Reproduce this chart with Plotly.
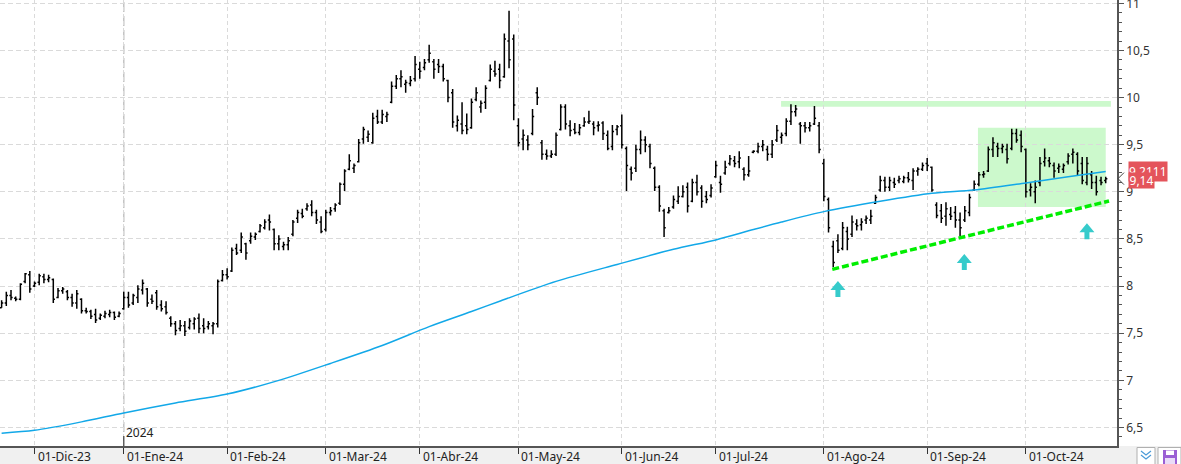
import numpy as np
import pandas as pd
import plotly.graph_objects as go

# ---------------- data ----------------
holidays = ["2023-12-25", "2023-12-26", "2024-01-01", "2024-03-29", "2024-04-01", "2024-05-01"]
dates = pd.bdate_range("2023-11-22", "2024-10-24", freq="C", holidays=holidays)

open_ = [
    7.77, 7.82, 7.90, 7.87, 7.86, 8.05, 8.12,
    8.00, 8.04, 8.10, 8.07, 8.07, 7.88, 7.95, 7.94, 7.88, 7.82, 7.86, 7.74, 7.73, 7.70, 7.66, 7.68, 7.70, 7.72, 7.68,
    7.76, 7.88, 7.82, 7.88, 7.96, 7.97, 7.86, 7.93, 7.80, 7.78, 7.66, 7.60, 7.55, 7.58, 7.56, 7.60, 7.66, 7.58, 7.57, 7.58, 7.60, 8.06,
    8.12, 8.16, 8.40, 8.38, 8.45, 8.48, 8.52, 8.58, 8.62, 8.70, 8.60, 8.45, 8.42, 8.44, 8.55, 8.72, 8.77, 8.82, 8.86, 8.78, 8.68,
    8.60, 8.78, 8.82, 8.88, 9.08, 9.24, 9.25, 9.32, 9.56, 9.58, 9.52, 9.80, 9.74, 9.80, 9.95, 10.12, 10.20, 10.14, 10.15, 10.20,
    10.30, 10.32, 10.40, 10.38, 10.35, 10.33, 10.18, 10.05, 9.70, 9.72, 9.70, 9.68, 9.98, 9.90, 9.95, 10.18, 10.28, 10.30, 10.22, 10.60, 10.62,
    9.70, 9.56, 9.55, 9.62, 10.05, 9.52, 9.40, 9.38, 9.40, 9.66, 9.90, 9.70, 9.66, 9.63, 9.70, 9.74, 9.72, 9.70, 9.73, 9.60, 9.48, 9.66,
    9.70, 9.46, 9.24, 9.25, 9.45, 9.55, 9.48, 9.25, 9.05, 8.80, 8.78, 8.84, 8.90, 8.95, 9.05, 8.90, 9.10, 9.04, 8.95, 8.96,
    9.16, 9.10, 9.20, 9.30, 9.33, 9.32, 9.24, 9.18, 9.42, 9.43, 9.48, 9.45, 9.40, 9.55, 9.58, 9.62, 9.75, 9.85, 9.72, 9.70, 9.68, 9.72, 9.70,
    9.30, 8.92, 8.42, 8.48, 8.40, 8.58, 8.55, 8.66, 8.65, 8.70, 8.70, 8.88, 9.02, 9.12, 9.05, 9.10, 9.12, 9.11, 9.15, 9.12, 9.22, 9.24,
    9.30, 9.26, 8.86, 8.80, 8.74, 8.76, 8.78, 8.70, 8.70, 8.78, 9.02, 9.08, 9.18, 9.22, 9.45, 9.48, 9.46, 9.45, 9.46, 9.62, 9.60,
    9.45, 9.02, 9.00, 9.10, 9.32, 9.33, 9.28, 9.25, 9.24, 9.32, 9.40, 9.40, 9.30, 9.10, 9.18, 9.10, 9.12, 9.12,
]
high = [
    7.85, 7.94, 7.96, 7.89, 8.03, 8.14, 8.16,
    8.05, 8.13, 8.13, 8.12, 8.08, 7.98, 7.99, 7.96, 7.92, 7.96, 7.87, 7.77, 7.75, 7.76, 7.71, 7.74, 7.75, 7.73, 7.73,
    7.94, 7.94, 7.92, 8.01, 8.07, 7.98, 7.91, 7.96, 7.85, 7.84, 7.68, 7.63, 7.64, 7.63, 7.66, 7.67, 7.71, 7.66, 7.63, 7.62, 8.07, 8.17,
    8.19, 8.41, 8.45, 8.57, 8.46, 8.57, 8.57, 8.66, 8.71, 8.76, 8.61, 8.54, 8.47, 8.52, 8.70, 8.81, 8.82, 8.88, 8.91, 8.81, 8.74,
    8.81, 8.84, 8.88, 9.10, 9.24, 9.40, 9.30, 9.56, 9.69, 9.65, 9.84, 9.87, 9.87, 9.85, 10.17, 10.24, 10.29, 10.19, 10.23, 10.44,
    10.38, 10.41, 10.56, 10.41, 10.41, 10.36, 10.19, 10.09, 9.81, 9.95, 9.83, 9.99, 10.11, 9.97, 10.13, 10.35, 10.39, 10.36, 10.68, 10.92, 10.67,
    9.78, 9.66, 9.60, 9.88, 10.11, 9.55, 9.45, 9.44, 9.63, 9.93, 9.93, 9.76, 9.73, 9.72, 9.79, 9.86, 9.75, 9.75, 9.75, 9.65, 9.71, 9.71,
    9.82, 9.48, 9.27, 9.50, 9.65, 9.59, 9.51, 9.27, 9.07, 8.82, 8.84, 8.96, 9.06, 9.07, 9.10, 9.14, 9.18, 9.07, 9.01, 9.08,
    9.33, 9.17, 9.33, 9.39, 9.38, 9.43, 9.26, 9.38, 9.44, 9.52, 9.55, 9.49, 9.55, 9.71, 9.63, 9.78, 9.93, 9.92, 9.74, 9.74, 9.74, 9.91, 9.74,
    9.35, 8.94, 8.48, 8.55, 8.68, 8.63, 8.75, 8.71, 8.72, 8.75, 8.81, 8.97, 9.17, 9.16, 9.16, 9.15, 9.17, 9.17, 9.21, 9.25, 9.26, 9.31,
    9.36, 9.27, 8.89, 8.87, 8.89, 8.84, 8.85, 8.78, 8.85, 8.98, 9.12, 9.21, 9.22, 9.48, 9.58, 9.52, 9.51, 9.51, 9.67, 9.67, 9.65,
    9.46, 9.09, 9.12, 9.37, 9.46, 9.37, 9.31, 9.30, 9.30, 9.41, 9.46, 9.42, 9.37, 9.37, 9.22, 9.17, 9.16, 9.16,
]
low = [
    7.77, 7.79, 7.85, 7.84, 7.85, 8.03, 7.93,
    7.99, 8.01, 8.03, 8.04, 7.82, 7.87, 7.92, 7.85, 7.78, 7.76, 7.71, 7.71, 7.65, 7.61, 7.64, 7.66, 7.67, 7.64, 7.67,
    7.75, 7.77, 7.80, 7.82, 7.91, 7.78, 7.81, 7.75, 7.73, 7.70, 7.57, 7.48, 7.52, 7.47, 7.54, 7.54, 7.50, 7.50, 7.54, 7.49, 7.56, 8.05,
    8.07, 8.15, 8.33, 8.35, 8.28, 8.45, 8.49, 8.57, 8.60, 8.59, 8.38, 8.38, 8.38, 8.38, 8.53, 8.67, 8.72, 8.80, 8.74, 8.66, 8.56,
    8.58, 8.75, 8.79, 8.86, 9.01, 9.23, 9.20, 9.31, 9.51, 9.53, 9.51, 9.72, 9.72, 9.74, 9.94, 10.09, 10.11, 10.05, 10.12, 10.17,
    10.20, 10.29, 10.37, 10.20, 10.26, 10.17, 9.95, 9.68, 9.64, 9.61, 9.61, 9.67, 9.96, 9.84, 9.88, 10.17, 10.22, 10.10, 10.21, 10.31, 9.76,
    9.48, 9.44, 9.44, 9.60, 9.92, 9.34, 9.34, 9.36, 9.38, 9.65, 9.66, 9.59, 9.61, 9.60, 9.69, 9.72, 9.60, 9.64, 9.55, 9.44, 9.44, 9.60,
    9.46, 9.01, 9.12, 9.21, 9.40, 9.42, 9.25, 9.01, 8.79, 8.52, 8.77, 8.82, 8.87, 8.94, 8.78, 8.89, 8.96, 8.83, 8.88, 8.94,
    9.15, 8.99, 9.18, 9.28, 9.26, 9.25, 9.12, 9.16, 9.41, 9.41, 9.43, 9.33, 9.36, 9.53, 9.51, 9.59, 9.71, 9.80, 9.51, 9.63, 9.64, 9.71, 9.41,
    8.90, 8.57, 8.20, 8.35, 8.38, 8.38, 8.52, 8.59, 8.59, 8.66, 8.66, 8.87, 9.00, 9.00, 9.01, 9.04, 9.09, 9.09, 9.10, 9.02, 9.17, 9.22,
    9.22, 9.00, 8.72, 8.67, 8.64, 8.70, 8.62, 8.53, 8.68, 8.74, 9.01, 9.06, 9.15, 9.21, 9.37, 9.37, 9.41, 9.30, 9.44, 9.52, 9.42,
    8.94, 8.95, 8.88, 9.06, 9.27, 9.26, 9.15, 9.20, 9.20, 9.29, 9.30, 9.17, 9.08, 9.07, 9.03, 8.96, 9.07, 9.09,
]
close = [
    7.82, 7.90, 7.88, 7.86, 8.02, 8.13, 7.97,
    8.03, 8.11, 8.07, 8.09, 7.86, 7.95, 7.97, 7.88, 7.82, 7.92, 7.74, 7.73, 7.68, 7.64, 7.69, 7.71, 7.72, 7.67, 7.71,
    7.88, 7.80, 7.90, 7.97, 8.03, 7.82, 7.84, 7.78, 7.76, 7.72, 7.60, 7.53, 7.58, 7.52, 7.63, 7.65, 7.55, 7.55, 7.60, 7.60, 8.05, 8.12,
    8.10, 8.38, 8.35, 8.52, 8.35, 8.53, 8.55, 8.64, 8.68, 8.68, 8.45, 8.50, 8.44, 8.48, 8.68, 8.78, 8.74, 8.85, 8.78, 8.70, 8.58,
    8.78, 8.80, 8.86, 9.08, 9.22, 9.33, 9.28, 9.52, 9.66, 9.61, 9.78, 9.74, 9.82, 9.82, 10.12, 10.20, 10.22, 10.16, 10.18, 10.35,
    10.28, 10.37, 10.47, 10.30, 10.33, 10.20, 10.00, 9.74, 9.76, 9.65, 9.66, 9.95, 10.05, 9.94, 10.10, 10.30, 10.25, 10.18, 10.62, 10.40, 9.92,
    9.52, 9.60, 9.50, 9.80, 10.00, 9.40, 9.38, 9.40, 9.60, 9.90, 9.72, 9.65, 9.63, 9.68, 9.74, 9.75, 9.68, 9.71, 9.62, 9.46, 9.64, 9.69,
    9.50, 9.28, 9.20, 9.45, 9.55, 9.50, 9.30, 9.05, 8.85, 8.62, 8.80, 8.92, 8.95, 9.00, 8.85, 9.10, 9.00, 8.90, 8.92, 9.04,
    9.28, 9.08, 9.26, 9.35, 9.30, 9.36, 9.18, 9.22, 9.43, 9.48, 9.50, 9.40, 9.50, 9.65, 9.60, 9.75, 9.85, 9.88, 9.70, 9.68, 9.70, 9.78, 9.45,
    8.95, 8.62, 8.25, 8.38, 8.62, 8.50, 8.68, 8.64, 8.68, 8.72, 8.74, 8.94, 9.12, 9.05, 9.12, 9.08, 9.14, 9.15, 9.13, 9.22, 9.24, 9.28,
    9.28, 9.02, 8.75, 8.72, 8.82, 8.74, 8.70, 8.62, 8.80, 8.94, 9.08, 9.18, 9.19, 9.45, 9.52, 9.46, 9.48, 9.35, 9.62, 9.55, 9.48,
    9.00, 9.05, 9.05, 9.30, 9.36, 9.30, 9.22, 9.27, 9.28, 9.38, 9.42, 9.22, 9.12, 9.30, 9.10, 9.00, 9.10, 9.14,
]

# moving average, read at a number of bars (bar position in the dates list)
ma_pos = [0, 7, 17, 26, 37, 48, 59, 70, 81, 91, 100, 106, 118, 131, 143, 152, 160, 166, 175, 187, 198, 207, 218, 227, 235]
ma_val = [6.44, 6.47, 6.56, 6.655, 6.76, 6.855, 7.00, 7.18, 7.37, 7.57, 7.73, 7.84, 8.05, 8.23, 8.39, 8.49, 8.60,
          8.68, 8.79, 8.90, 8.985, 9.02, 9.095, 9.16, 9.215]

month_labels = ["01-Dic-23", "01-Ene-24", "01-Feb-24", "01-Mar-24", "01-Abr-24", "01-May-24",
                "01-Jun-24", "01-Jul-24", "01-Ago-24", "01-Sep-24", "01-Oct-24"]

last_price_label = "9,14"
ma_label = "9,2111"

assert len(dates) == len(open_) == len(high) == len(low) == len(close)

# ---------------- figure ----------------
xpos = np.arange(len(dates))
month_pos = [i for i in range(1, len(dates)) if dates[i].month != dates[i - 1].month]
year_pos = [i for i in range(1, len(dates)) if dates[i].year != dates[i - 1].year][0]

FONT = "Noto Sans"
fig = go.Figure()

fig.add_trace(go.Ohlc(
    x=xpos, open=open_, high=high, low=low, close=close,
    increasing=dict(line=dict(color="#000000", width=1.5)),
    decreasing=dict(line=dict(color="#000000", width=1.5)),
    tickwidth=0.35, showlegend=False, hoverinfo="skip",
))

fig.add_trace(go.Scatter(
    x=ma_pos, y=ma_val, mode="lines",
    line=dict(color="#12a8e8", width=1.5, shape="spline", smoothing=0.8),
    showlegend=False, hoverinfo="skip",
))

shapes = []
# green resistance band and consolidation box
shapes.append(dict(type="rect", xref="x", yref="y", x0=165.9, x1=236.1, y0=9.903, y1=9.964,
                   fillcolor="#ccf9cc", line=dict(width=0), layer="below"))
shapes.append(dict(type="rect", xref="x", yref="y", x0=207.8, x1=235.0, y0=8.839, y1=9.680,
                   fillcolor="#ccf9cc", line=dict(width=0), layer="below"))
# rising support (dashed)
shapes.append(dict(type="line", xref="x", yref="y", x0=176.8, x1=235.7, y0=8.178, y1=8.903,
                   line=dict(color="#00ee00", width=3.5, dash="7px,3px"), layer="above"))
# year separator
shapes.append(dict(type="line", xref="x", yref="paper", x0=year_pos, x1=year_pos, y0=0, y1=1,
                   line=dict(color="#c4c4c4", width=1.5, dash="10px,4px"), layer="below"))
shapes.append(dict(type="line", xref="x", yref="paper", x0=year_pos, x1=year_pos, y0=0, y1=10 / 446,
                   line=dict(color="#333333", width=1)))
# cyan up-arrows (pixel sized, anchored at data positions)
arrow_path = "M -7.5,-9 L 0,0 L 7.5,-9 L 2.5,-9 L 2.5,-16 L -2.5,-16 L -2.5,-9 Z"
for ax, ay in [(178.0, 8.054), (204.9, 8.341), (231.0, 8.666)]:
    shapes.append(dict(type="path", xref="x", yref="y", xsizemode="pixel", ysizemode="pixel",
                       xanchor=ax, yanchor=ay, path=arrow_path,
                       fillcolor="#36cbcb", line=dict(width=0), layer="above"))
# bottom gray band
shapes.append(dict(type="rect", xref="paper", yref="paper", x0=-0.01, x1=1181 / 1117 + 0.01,
                   y0=-18 / 446 - 0.01, y1=0, fillcolor="#f0f0f0", line=dict(width=0), layer="below"))
# chevron marker at price on axis
shapes.append(dict(type="path", xref="paper", yref="y", xsizemode="pixel", ysizemode="pixel",
                   xanchor=1, yanchor=9.14, path="M 7,6 L 1,0 L 7,-6",
                   line=dict(color="#444444", width=1)))
# bottom-right icons
shapes.append(dict(type="rect", xref="paper", yref="paper", xsizemode="pixel", ysizemode="pixel",
                   xanchor=1, yanchor=0, x0=20, x1=38, y0=-1.5, y1=-19,
                   fillcolor="#ffffff", line=dict(color="#b0b0b0", width=1)))
shapes.append(dict(type="path", xref="paper", yref="paper", xsizemode="pixel", ysizemode="pixel",
                   xanchor=1, yanchor=0, path="M 24,-5 L 29,-9 L 34,-5 M 24,-9 L 29,-13 L 34,-9",
                   line=dict(color="#4a9ad8", width=1.2)))
shapes.append(dict(type="rect", xref="paper", yref="paper", xsizemode="pixel", ysizemode="pixel",
                   xanchor=1, yanchor=0, x0=41, x1=64, y0=-1.5, y1=-19,
                   fillcolor="#ffffff", line=dict(color="#b0b0b0", width=1)))
shapes.append(dict(type="rect", xref="paper", yref="paper", xsizemode="pixel", ysizemode="pixel",
                   xanchor=1, yanchor=0, x0=46, x1=60, y0=-4, y1=-18,
                   fillcolor="#9b5fd4", line=dict(width=0)))
shapes.append(dict(type="rect", xref="paper", yref="paper", xsizemode="pixel", ysizemode="pixel",
                   xanchor=1, yanchor=0, x0=49, x1=57, y0=-4.5, y1=-9,
                   fillcolor="#ffffff", line=dict(width=0)))
shapes.append(dict(type="rect", xref="paper", yref="paper", xsizemode="pixel", ysizemode="pixel",
                   xanchor=1, yanchor=0, x0=48, x1=58, y0=-12, y1=-18,
                   fillcolor="#e9dcf7", line=dict(width=0)))

annotations = []
for pos, lab in zip(month_pos, month_labels):
    annotations.append(dict(x=pos, xref="x", y=-10 / 446, yref="paper", text=lab, showarrow=False,
                            xanchor="left", yanchor="middle", xshift=1,
                            font=dict(family=FONT, size=12, color="#222222")))
annotations.append(dict(x=year_pos, xref="x", y=3 / 446, yref="paper", text="2024", showarrow=False,
                        xanchor="left", yanchor="bottom", xshift=0,
                        font=dict(family=FONT, size=12, color="#222222")))
# price labels on the right
annotations.append(dict(x=1127.7 / 1117, xref="paper", y=9.2175, yref="y", text=ma_label, showarrow=False,
                        xanchor="left", yanchor="middle", bgcolor="#e4545b", borderpad=0, width=38, height=19,
                        align="left", font=dict(family=FONT, size=12, color="#ffffff")))
annotations.append(dict(x=1127.7 / 1117, xref="paper", y=9.1255, yref="y", text=last_price_label, showarrow=False,
                        xanchor="left", yanchor="middle", bgcolor="#e4545b", borderpad=0, width=25, height=15,
                        align="center", font=dict(family=FONT, size=12, color="#ffffff")))

fig.update_layout(
    width=1181, height=464,
    margin=dict(l=0, r=64, t=0, b=18, autoexpand=False),
    paper_bgcolor="#ffffff", plot_bgcolor="#ffffff",
    separators=",.",
    font=dict(family=FONT, size=12, color="#222222"),
    shapes=shapes, annotations=annotations,
    showlegend=False,
    xaxis=dict(
        range=[-0.344, 237.4], tickvals=month_pos, showticklabels=False, automargin=False,
        ticks="outside", ticklen=6, tickcolor="#333333", tickwidth=1,
        showgrid=True, gridcolor="#dadada", gridwidth=1, griddash="4px,3px",
        showline=True, linecolor="#555555", linewidth=1.5, zeroline=False,
        rangeslider=dict(visible=False), fixedrange=True,
    ),
    yaxis=dict(
        side="right", range=[6.304, 11.035], tick0=0, dtick=0.5, automargin=False,
        ticks="outside", ticklen=5, tickcolor="#555555", ticklabeloverflow="allow",
        minor=dict(dtick=0.1, ticks="outside", ticklen=3, tickcolor="#555555", showgrid=False),
        showgrid=True, gridcolor="#dadada", gridwidth=1, griddash="5px,3px",
        showline=True, linecolor="#555555", linewidth=1.5, zeroline=False,
        tickfont=dict(family=FONT, size=12, color="#333333"), fixedrange=True,
    ),
)

fig.write_html("out.html", config={"displayModeBar": False},
               post_script="document.body.style.margin='0px';document.body.style.overflow='hidden';")
